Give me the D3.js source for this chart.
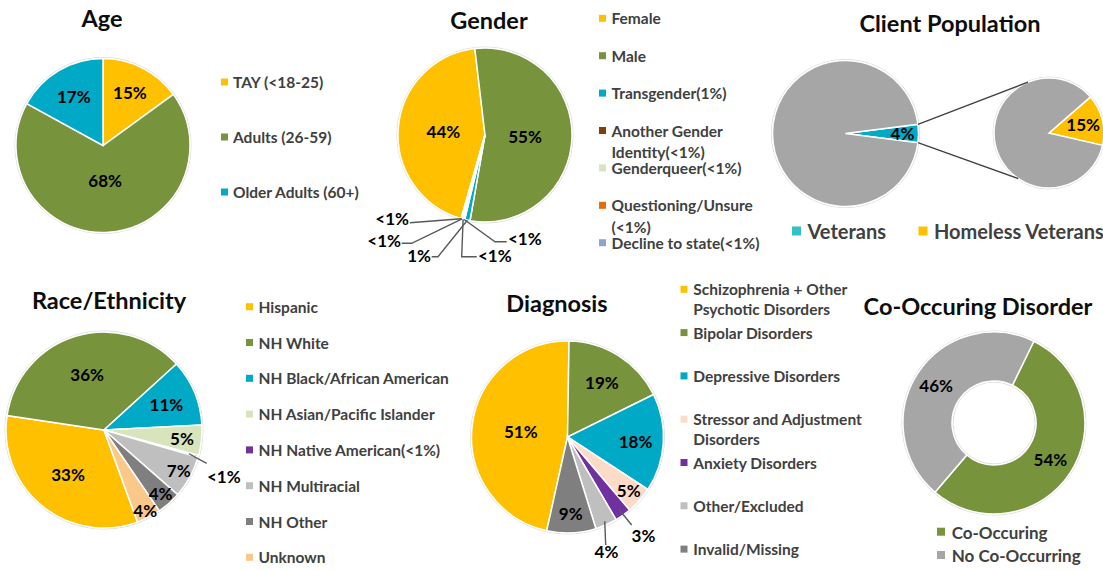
<!DOCTYPE html>
<html>
<head>
<meta charset="utf-8">
<script src="https://cdn.jsdelivr.net/npm/d3@7"></script>
<style>
  body { margin: 0; background: #fff; }
  svg { font-family: Lato, "Open Sans", sans-serif; font-weight: bold; }
</style>
</head>
<body>
<div id="chart"></div>
<script>
// ---------- data ----------
const ageCats = ["TAY (<18-25)", "Adults (26-59)", "Older Adults (60+)"];
const ageValues = [15, 68, 17];

const genderCats = ["Female", "Male", "Transgender(1%)", "Another Gender\nIdentity(<1%)",
  "Genderqueer(<1%)", "Questioning/Unsure\n(<1%)", "Decline to state(<1%)"];
const genderValues = [44, 55, 1, 0.2, 0.2, 0.2, 0.1];

const vetCats = ["Veterans", "Non-Veterans"];
const vetValues = [4, 96];
const homelessCats = ["Homeless Veterans", "Housed Veterans"];
const homelessValues = [15, 85];

const raceCats = ["Hispanic", "NH White", "NH Black/African American", "NH Asian/Pacific Islander",
  "NH Native American(<1%)", "NH Multiracial", "NH Other", "Unknown"];
const raceValues = [33, 36, 11, 5, 0.3, 7, 4, 4];

const dxCats = ["Schizophrenia + Other\nPsychotic Disorders", "Bipolar Disorders", "Depressive Disorders",
  "Stressor and Adjustment\nDisorders", "Anxiety Disorders", "Other/Excluded", "Invalid/Missing"];
const dxValues = [51, 19, 18, 5, 3, 4, 9];

const coCats = ["Co-Occuring", "No Co-Occurring"];
const coValues = [54, 46];

// ---------- colours ----------
const YEL = "#FFC000", GRN = "#77933C", TEAL = "#00A9C6";
const genderColors = [YEL, GRN, TEAL, "#843C0C", "#D8E4BC", "#E46C0A", "#8EA4C8"];
const raceColors = [YEL, GRN, TEAL, "#D8E4BC", "#7030A0", "#BFBFBF", "#7F7F7F", "#FAC98A"];
const dxColors = [YEL, GRN, TEAL, "#FCDCC8", "#7030A0", "#BFBFBF", "#7F7F7F"];

const fmt = v => v < 1 ? "<1%" : v + "%";
const rad = d => d * Math.PI / 180;

const svg = d3.select("#chart").append("svg")
  .attr("width", 1103).attr("height", 570);

function title(text, x, y) {
  svg.append("text").attr("x", x).attr("y", y)
    .attr("text-anchor", "middle").attr("dominant-baseline", "central")
    .style("font-size", "23.5px").style("fill", "#0d0d0d").text(text);
}

function drawPie(p) {
  const g = svg.append("g").attr("transform", `translate(${p.cx},${p.cy})`);
  const pie = d3.pie().sort(null)
    .startAngle(rad(p.start)).endAngle(rad(p.start) + 2 * Math.PI);
  const arcs = pie(p.values);
  const arc = d3.arc().innerRadius(p.inner || 0).outerRadius(p.r);

  g.append("circle").attr("r", p.r + 1).attr("fill", "none").attr("stroke", "#dcdcdc");
  if (p.inner) g.append("circle").attr("r", p.inner - 1).attr("fill", "none").attr("stroke", "#dcdcdc");

  g.selectAll("path").data(arcs).join("path")
    .attr("d", arc)
    .attr("fill", (d, i) => p.colors[i])
    .attr("stroke", "#fff").attr("stroke-width", 1.5);

  // labels inside slices
  arcs.forEach((a, i) => {
    const f = p.labelR[i];
    if (f == null) return;
    const m = (a.startAngle + a.endAngle) / 2;
    g.append("text")
      .attr("x", Math.sin(m) * f * p.r).attr("y", -Math.cos(m) * f * p.r)
      .attr("text-anchor", "middle").attr("dominant-baseline", "central")
      .style("font-size", "17px").style("fill", "#000")
      .text(fmt(p.values[i]));
  });

  // callout labels with leader lines
  (p.callouts || []).forEach(c => {
    const a = arcs[c.i];
    const m = (a.startAngle + a.endAngle) / 2;
    const f = c.from || 1;
    const pts = [[Math.sin(m) * f * p.r, -Math.cos(m) * f * p.r], c.elbow];
    if (c.end) pts.push(c.end);
    g.append("path")
      .attr("d", d3.line()(pts))
      .attr("fill", "none").attr("stroke", "#595959").attr("stroke-width", 1.4);
    g.append("text")
      .attr("x", c.label[0]).attr("y", c.label[1])
      .attr("text-anchor", c.anchor).attr("dominant-baseline", "central")
      .style("font-size", "17px").style("fill", "#000")
      .text(fmt(p.values[c.i]));
  });
  return arcs;
}

function legend(cats, colors, o) {
  cats.forEach((name, i) => {
    const x = o.x + (o.dx ? o.dx[i] : 0);
    const y = o.y + i * (o.step || 0);
    svg.append("rect")
      .attr("x", x).attr("y", y - o.sq / 2)
      .attr("width", o.sq).attr("height", o.sq)
      .attr("fill", colors[i]);
    const t = svg.append("text")
      .attr("x", x + o.gap).attr("y", y)
      .attr("dominant-baseline", "central")
      .style("font-size", o.size + "px").style("fill", "#404040");
    name.split("\n").forEach((line, k) => {
      t.append("tspan").attr("x", x + o.gap).attr("y", y + k * o.lh).text(line);
    });
  });
}

// ---------- Age ----------
title("Age", 102, 18);
drawPie({ cx: 103, cy: 145.5, r: 87, start: 0, values: ageValues,
  colors: [YEL, GRN, TEAL], labelR: [0.68, 0.40, 0.66] });
legend(ageCats, [YEL, GRN, TEAL], { x: 221, y: 82, step: 55, sq: 7, gap: 12, size: 15.5, lh: 20 });

// ---------- Gender ----------
title("Gender", 489, 20);
drawPie({ cx: 485, cy: 135, r: 87, start: 196, values: genderValues,
  colors: genderColors, labelR: [0.48, 0.46],
  callouts: [
    { i: 2, elbow: [-47, 121.7], end: [-53.3, 121.7], label: [-54, 120], anchor: "end" },
    { i: 3, elbow: [10, 106.7], end: [21.7, 106.7], label: [23, 103], anchor: "start" },
    { i: 4, elbow: [-23.3, 121.7], end: [-8.3, 121.7], label: [-7, 120], anchor: "start" },
    { i: 5, elbow: [-73.3, 108.3], end: [-83.3, 108.3], label: [-84, 105], anchor: "end" },
    { i: 6, elbow: [-75, 87.7], label: [-76, 83], anchor: "end" }
  ] });
legend(genderCats, genderColors, { x: 599, y: 18.3, step: 37.4, sq: 7, gap: 12.5, size: 15.5, lh: 21.5 });

// ---------- Client Population (pie of pie) ----------
title("Client Population", 950, 22.7);
const mainP = { cx: 845.5, cy: 133.5, r: 73 };
const subP = { cx: 1049, cy: 133, r: 55 };
const vetArcs = drawPie({ ...mainP, start: 82.8, values: vetValues,
  colors: [TEAL, "#A6A6A6"], labelR: [0.78, null] });
drawPie({ ...subP, start: 49, values: homelessValues,
  colors: [YEL, "#A6A6A6"], labelR: [0.64, null] });
// connector lines between the Veterans slice and the second pie
[[vetArcs[0].startAngle, rad(-22.5)], [vetArcs[0].endAngle, rad(214)]].forEach(([a1, a2]) => {
  svg.append("line")
    .attr("x1", mainP.cx + Math.sin(a1) * mainP.r).attr("y1", mainP.cy - Math.cos(a1) * mainP.r)
    .attr("x2", subP.cx + Math.sin(a2) * subP.r).attr("y2", subP.cy - Math.cos(a2) * subP.r)
    .attr("stroke", "#404040").attr("stroke-width", 1.3);
});
legend([vetCats[0], homelessCats[0]], ["#34BFCB", YEL],
  { x: 792, dx: [0, 126.5], y: 231, sq: 9, gap: 15.5, size: 20, lh: 20 });

// ---------- Race/Ethnicity ----------
title("Race/Ethnicity", 109, 300);
drawPie({ cx: 104, cy: 430, r: 98, start: 160, values: raceValues,
  colors: raceColors, labelR: [0.58, 0.59, 0.69, 0.80, null, 0.87, 0.87, 0.92],
  callouts: [
    { i: 4, from: 0.9, elbow: [102.7, 33.3], label: [103, 46.7], anchor: "start" }
  ] });
legend(raceCats, raceColors, { x: 246, y: 306.7, step: 35.8, sq: 7, gap: 12.5, size: 15.5, lh: 20 });

// ---------- Diagnosis ----------
title("Diagnosis", 557, 303);
drawPie({ cx: 567.5, cy: 437, r: 96, start: 192.5, values: dxValues,
  colors: dxColors, labelR: [0.49, 0.67, 0.71, 0.85, null, null, 0.80],
  callouts: [
    { i: 4, from: 0.92, elbow: [64.2, 88], label: [76, 98], anchor: "middle" },
    { i: 5, from: 0.96, elbow: [38.2, 108], label: [39, 114.7], anchor: "middle" }
  ] });
legend(dxCats, dxColors, { x: 680.5, y: 289.3, step: 43.3, sq: 7, gap: 12.8, size: 15.5, lh: 20 });

// ---------- Co-Occuring Disorder ----------
title("Co-Occuring Disorder", 978, 306);
drawPie({ cx: 994, cy: 423, r: 91, inner: 42, start: 26, values: coValues,
  colors: [GRN, "#A6A6A6"], labelR: [0.74, 0.76] });
legend(coCats, [GRN, "#A6A6A6"], { x: 937, y: 531.7, step: 23.3, sq: 8, gap: 14.7, size: 17, lh: 20 });
</script>
</body>
</html>
